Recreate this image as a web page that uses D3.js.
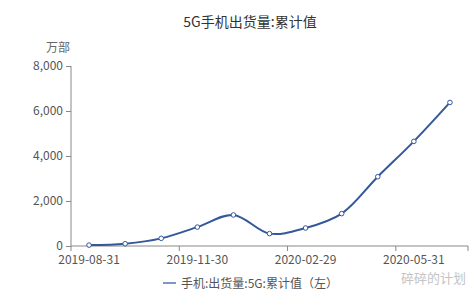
<!DOCTYPE html>
<html>
<head>
<meta charset="utf-8">
<script src="https://cdn.jsdelivr.net/npm/d3@7"></script>
<style>
    body { margin: 0; background: #fff; }
    svg text { font-family: "Noto Sans CJK SC", "Noto Sans", sans-serif; }
</style>
</head>
<body>
<div id="chart"></div>
<script>
// Monthly data, cumulative 5G phone shipments (10k units)
const months = ["2019-08-31", "2019-09-30", "2019-10-31", "2019-11-30", "2019-12-31",
    "2020-01-31", "2020-02-29", "2020-03-31", "2020-04-30", "2020-05-31", "2020-06-30"];
const shipments = [40, 100, 340, 840, 1380, 550, 800, 1440, 3080, 4650, 6380];
const yTicks = [0, 2000, 4000, 6000, 8000];
const labelMonths = ["2019-08-31", "2019-11-30", "2020-02-29", "2020-05-31"];

const width = 473, height = 293;
const margin = { top: 66, right: 5, bottom: 47, left: 71 };
const innerWidth = width - margin.left - margin.right;
const innerHeight = height - margin.top - margin.bottom;

const lineColor = "#34589a";

const svg = d3.select("#chart").append("svg")
    .attr("width", width)
    .attr("height", height);

// title
svg.append("text")
    .attr("x", 250)
    .attr("y", 27)
    .attr("text-anchor", "middle")
    .attr("font-size", 14)
    .attr("fill", "#333")
    .text("5G手机出货量:累计值");

const plot = svg.append("g")
    .attr("transform", `translate(${margin.left},${margin.top})`);

const x = d3.scaleBand()
    .domain(months)
    .range([0, innerWidth]);

const y = d3.scaleLinear()
    .domain([0, 8000])
    .range([innerHeight, 0]);

// y axis
const yAxis = plot.append("g")
    .call(d3.axisLeft(y).tickValues(yTicks).tickSize(5).tickPadding(3).tickFormat(d3.format(",")));
yAxis.selectAll("text").attr("font-size", 12).attr("fill", "#555");
yAxis.selectAll("line, path").attr("stroke", "#888");
yAxis.select(".domain").attr("d", `M0,0V${innerHeight}`);

// unit
plot.append("text")
    .attr("x", -1)
    .attr("y", -14)
    .attr("text-anchor", "end")
    .attr("font-size", 12)
    .attr("fill", "#666")
    .text("万部");

// x axis: ticks on band edges, labels on band centers
const xg = plot.append("g")
    .attr("transform", `translate(0,${innerHeight})`);
xg.append("line")
    .attr("x1", 0).attr("x2", innerWidth)
    .attr("stroke", "#888");
const tickIdx = [0, 3, 6, 9];
xg.selectAll(".tick")
    .data(tickIdx.map(i => x(months[i])).concat([innerWidth]))
    .enter().append("line")
    .attr("x1", d => d).attr("x2", d => d)
    .attr("y1", 0).attr("y2", 5)
    .attr("stroke", "#888");
xg.selectAll(".lbl")
    .data(labelMonths)
    .enter().append("text")
    .attr("x", d => x(d) + x.bandwidth() / 2)
    .attr("y", 18)
    .attr("text-anchor", "middle")
    .attr("font-size", 12)
    .attr("fill", "#555")
    .text(d => d);

// line
const line = d3.line()
    .x((d, i) => x(months[i]) + x.bandwidth() / 2)
    .y(d => y(d))
    .curve(d3.curveCatmullRom.alpha(0.5));

plot.append("path")
    .datum(shipments)
    .attr("fill", "none")
    .attr("stroke", lineColor)
    .attr("stroke-width", 2)
    .attr("d", line);

plot.selectAll(".pt")
    .data(shipments)
    .enter().append("circle")
    .attr("cx", (d, i) => x(months[i]) + x.bandwidth() / 2)
    .attr("cy", d => y(d))
    .attr("r", 2.3)
    .attr("fill", "#fff")
    .attr("stroke", lineColor)
    .attr("stroke-width", 1);

// legend
svg.append("line")
    .attr("x1", 163).attr("x2", 176)
    .attr("y1", 283).attr("y2", 283)
    .attr("stroke", "#7d98c4")
    .attr("stroke-width", 2);
svg.append("text")
    .attr("x", 181)
    .attr("y", 287.5)
    .attr("font-size", 12)
    .attr("fill", "#555")
    .text("手机:出货量:5G:累计值（左）");

// author mark
svg.append("text")
    .attr("x", 466)
    .attr("y", 283)
    .attr("text-anchor", "end")
    .attr("font-size", 13)
    .attr("fill", "#c4c4c4")
    .text("碎碎的计划");
</script>
</body>
</html>
